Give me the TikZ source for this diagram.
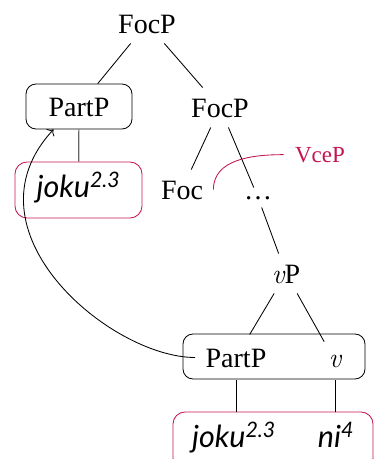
\documentclass[tikz,border=0pt]{standalone}
\usepackage{fontspec}
\setmainfont{Liberation Serif}
\newfontfamily\sansfam{Lato}
\newfontfamily\lmfam{Latin Modern Roman}
\newcommand{\vv}{{\lmfam\itshape v}}
\usetikzlibrary{arrows.meta,calc}
\definecolor{crim}{RGB}{196,22,78}
\begin{document}
\begin{tikzpicture}[x=1pt,y=-1pt,line width=0.85pt,
  lbl/.style={font=\fontsize{28}{30}\selectfont, text height=19pt, text depth=0pt, inner xsep=10pt, inner ysep=10pt},
  jk/.style={font=\sansfam\itshape\fontsize{30.5}{32}\selectfont, text height=20pt, text depth=6pt},
  blackbox/.style={draw, rounded corners=10pt},
  redbox/.style={draw=crim, rounded corners=12pt},
  dotsn/.style={font=\fontsize{28}{30}\selectfont, text height=3pt, text depth=0pt, inner xsep=6pt, inner ysep=8pt},
  lowbox/.style={lbl, inner ysep=13pt},
  graylink/.style={draw=black!60, line width=1.2pt}]
\useasboundingbox (0,0) rectangle (375,459);

% boxes
\node[blackbox, lbl, minimum width=106pt, minimum height=45pt] (boxA) at (79,106.5) {PartP};
\node[redbox, jk, minimum width=127pt, minimum height=56pt] (boxJ) at (78.5,190) {joku\textsuperscript{2.3}};
\node[blackbox, minimum width=182pt, minimum height=45pt] (boxB) at (274,356.5) {};
\node[redbox, minimum width=200pt, minimum height=58pt] (boxR) at (273,441) {};

% labels
\node[lbl, anchor=base] (focA) at (147,33) {FocP};
\node[lbl, anchor=base] (focB) at (220,117) {FocP};
\node[lbl, anchor=base] (foc) at (182,199) {Foc};
\node[dotsn, anchor=base] (dots) at (258,199) {\ldots};
\node[lbl, anchor=base] (vP) at (286,283) {\vv P};
\node[lowbox, anchor=base] (partB) at (236,367) {PartP};
\node[lowbox, text height=12pt, anchor=base] (vB) at (335,367) {\vv};
\node[jk, anchor=base] (jokuB) at (234,447) {joku\textsuperscript{2.3}};
\node[jk, anchor=base] (niB) at (336,447) {ni\textsuperscript{4}};
\node[font=\fontsize{23}{26}\selectfont, text=crim, anchor=base, inner xsep=11pt] (vcep) at (320,162) {VceP};

% tree edges
\draw (focA) -- (boxA);
\draw (focA) -- (focB);
\draw[graylink] (boxA) -- (boxJ);
\draw (focB) -- (foc);
\draw (focB) -- (dots);
\draw (dots) -- (vP);
\draw (vP) -- (partB);
\draw (vP) -- (vB);
\draw (partB.south) -- (partB.south |- boxR.north);
\draw (vB.south) -- (vB.south |- boxR.north);

% VceP marker
\draw[crim] (foc.east) to[out=90,in=180] (vcep.west);

% movement arrow
\draw[-{To[length=5pt]}] (partB.west) .. controls ($(partB.west)+(-85,0)$) and ($(boxA.-138)+(-94,101)$) .. (boxA.-138);
\end{tikzpicture}
\end{document}
